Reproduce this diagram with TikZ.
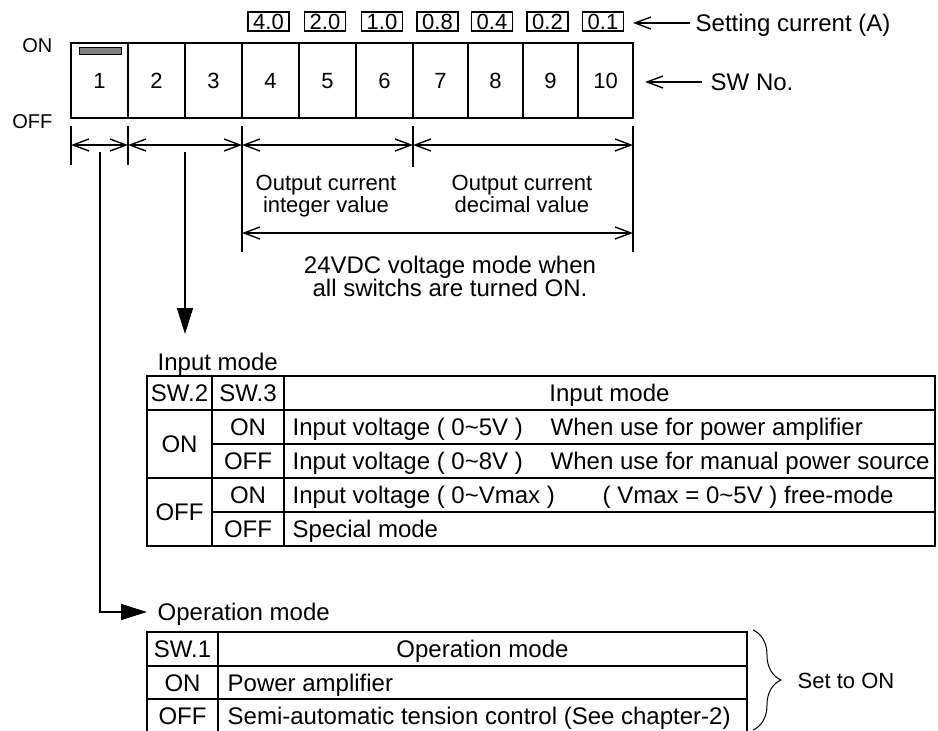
\documentclass[tikz,border=0pt]{standalone}
\usepackage{fontspec}
\setmainfont{Liberation Sans}
\usetikzlibrary{arrows.meta,decorations.pathreplacing}
\begin{document}
\begin{tikzpicture}[x=1pt,y=-1pt,line width=1.4pt,
  t24/.style={inner sep=0pt,text height=17.2pt,text depth=0pt,font=\fontsize{24}{26}\selectfont},
  t22/.style={inner sep=0pt,text height=15.8pt,text depth=0pt,font=\fontsize{22}{24}\selectfont},
  t20/.style={inner sep=0pt,text height=14.3pt,text depth=0pt,font=\fontsize{20}{22}\selectfont},
  swcell/.style={draw,t22,minimum height=75pt},
  setbox/.style={draw,t22,minimum width=41pt,minimum height=19pt},
  barb/.style={-{Straight Barb[length=16pt,width=12pt]}},
  dimarr/.style={{Straight Barb[length=16pt,width=12pt]}-{Straight Barb[length=16pt,width=12pt]}},
  fillarr/.style={-{Triangle[length=26pt,width=16pt]}}
]
\useasboundingbox (0,0) rectangle (938,731);

% switch cells
\node[swcell,minimum width=57pt] (c1) at (99.5,80.5) {1};
\node[swcell,minimum width=57pt] (c2) at (156.5,80.5) {2};
\node[swcell,minimum width=57pt] (c3) at (213.5,80.5) {3};
\node[swcell,minimum width=57pt] (c4) at (270.5,80.5) {4};
\node[swcell,minimum width=57pt] (c5) at (327.5,80.5) {5};
\node[swcell,minimum width=57pt] (c6) at (384.5,80.5) {6};
\node[swcell,minimum width=55pt] (c7) at (440.5,80.5) {7};
\node[swcell,minimum width=55pt] (c8) at (495.5,80.5) {8};
\node[swcell,minimum width=55pt] (c9) at (550.5,80.5) {9};
\node[swcell,minimum width=55pt] (c10) at (605.5,80.5) {10};
\draw[line width=1pt,fill=gray] (79,47) rectangle (121,54);

\node[t20,anchor=east] (on) at (53,45) {ON};
\node[t20,anchor=east] (off) at (53,121) {OFF};

% setting current boxes
\node[setbox] (b4) at (268.5,21.5) {4.0};
\node[setbox] (b5) at (325,21.5) {2.0};
\node[setbox] (b6) at (382,21.5) {1.0};
\node[setbox] (b7) at (437.5,21.5) {0.8};
\node[setbox] (b8) at (492,21.5) {0.4};
\node[setbox] (b9) at (547.5,21.5) {0.2};
\node[setbox] (b10) at (603,21.5) {0.1};

\node[t24,inner xsep=5pt,anchor=west] (sc) at (690,23) {Setting current (A)};
\coordinate (sctip) at (633,23);
\draw[barb] (sc.west) -- (sctip);

\node[t24,inner xsep=8pt,anchor=west] (swno) at (702,82) {SW No.};
\coordinate (swtip) at (645,82);
\draw[barb] (swno.west) -- (swtip);

% dimension ticks
\draw (71,126) -- (71,165);
\draw (128,126) -- (128,165);
\draw (413,126) -- (413,167);
\draw (242,126) -- (242,252);
\draw (633,126) -- (633,252);
\draw[dimarr] (71,145) -- (128,145);
\draw[dimarr] (128,145) -- (242,145);
\draw[dimarr] (242,145) -- (413,145);
\draw[dimarr] (413,145) -- (633,145);
\draw[dimarr] (242,233) -- (633,233);

\node[t22] (oc1) at (326,183) {Output current};
\node[t22] (iv) at (326,205) {integer value};
\node[t22] (oc2) at (522,183) {Output current};
\node[t22] (dv) at (522,205) {decimal value};
\node[t24] (v1) at (450,265) {24VDC voltage mode when};
\node[t24] (v2) at (450,288) {all switchs are turned ON.};

% input mode arrow and label
\coordinate (d1) at (185,152);
\coordinate (d1tip) at (185,334);
\draw[fillarr] (d1) -- (d1tip);
\node[t24,anchor=west] (iml) at (157,362) {Input mode};

% input table
\draw (147,376) rectangle (935,546);
\draw (212,376) -- (212,546);
\draw (284,376) -- (284,546);
\draw (147,410) -- (935,410);
\draw (212,444) -- (935,444);
\draw (147,478) -- (935,478);
\draw (212,512) -- (935,512);
\node[t24] (h1) at (179.5,393) {SW.2};
\node[t24] (h2) at (248,393) {SW.3};
\node[t24] (h3) at (609.5,393) {Input mode};
\node[t24] (a1) at (179.5,444) {ON};
\node[t24] (a2) at (179.5,512) {OFF};
\node[t24] (r1b) at (248,427) {ON};
\node[t24] (r2b) at (248,461) {OFF};
\node[t24] (r3b) at (248,495) {ON};
\node[t24] (r4b) at (248,529) {OFF};
\node[t24,anchor=west] (r1c) at (292,427) {Input voltage ( 0\textasciitilde 5V )};
\node[t24,anchor=west] (r1d) at (550,427) {When use for power amplifier};
\node[t24,anchor=west] (r2c) at (292,461) {Input voltage ( 0\textasciitilde 8V )};
\node[t24,anchor=west] (r2d) at (550,461) {When use for manual power source};
\node[t24,anchor=west] (r3c) at (292,495) {Input voltage ( 0\textasciitilde Vmax )};
\node[t24,anchor=west] (r3d) at (602,495) {( Vmax = 0\textasciitilde 5V ) free-mode};
\node[t24,anchor=west] (r4c) at (292,529) {Special mode};

% operation mode arrow and label
\coordinate (d0) at (100,152);
\node[t24,inner xsep=10pt,anchor=west] (opl) at (147,612) {Operation mode};
\draw[fillarr] (d0) |- (opl.west);

% operation table
\draw (147,731) -- (147,632) -- (747,632) -- (747,731);
\draw (218,632) -- (218,731);
\draw (147,666) -- (747,666);
\draw (147,699) -- (747,699);
\node[t24] (o1) at (182.5,649) {SW.1};
\node[t24] (o2) at (482.5,649) {Operation mode};
\node[t24] (o3) at (182.5,682.5) {ON};
\node[t24] (o4) at (182.5,716) {OFF};
\node[t24,anchor=west] (o5) at (227,682.5) {Power amplifier};
\node[t24,anchor=west] (o6) at (227,716) {Semi-automatic tension control (See chapter-2)};

% brace
\draw[line width=1pt,decorate,decoration={brace,amplitude=28pt}] (753,630) -- (753,730);
\node[t22,anchor=west] (set) at (797,681) {Set to ON};
\end{tikzpicture}
\end{document}
